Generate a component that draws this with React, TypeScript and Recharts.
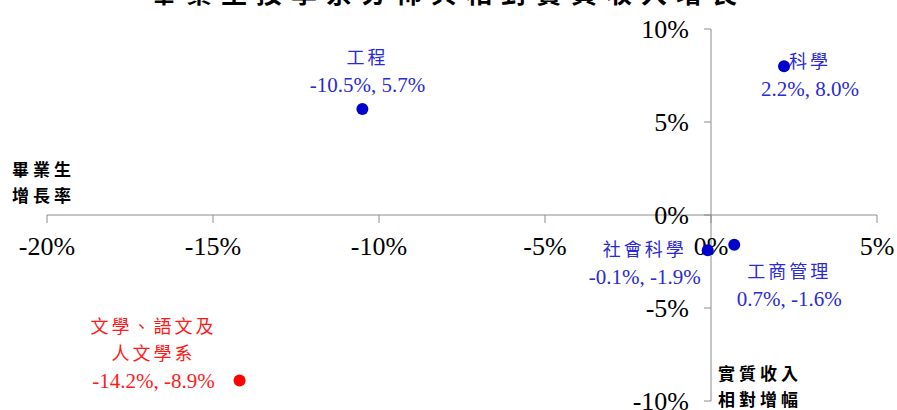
import { ScatterChart, Scatter, XAxis, YAxis, ReferenceLine, ReferenceDot } from 'recharts';

const categories = ['工程', '科學', '社會科學', '工商管理', '文學、語文及人文學系'];
const labelLines = [['工程'], ['科學'], ['社會科學'], ['工商管理'], ['文學、語文及', '人文學系']];
const growthX = [-10.5, 2.2, -0.1, 0.7, -14.2];
const incomeY = [5.7, 8.0, -1.9, -1.6, -8.9];
const highlighted = ['文學、語文及人文學系'];

const xTicks = [-20, -15, -10, -5, 0, 5];
const yTicks = [-10, -5, 0, 5, 10];
const xTitle = ['畢業生', '增長率'];
const yTitle = ['實質收入', '相對增幅'];
const chartTitle = '畢業生按學系分佈與相對實質收入增長';

// where each label block sits relative to its dot
const placement: Record<string, { dx: number; dy: number }> = {
  工程: { dx: 5, dy: -51 },
  科學: { dx: 26, dy: -4 },
  社會科學: { dx: -63, dy: 0 },
  工商管理: { dx: 55, dy: 27 },
  '文學、語文及人文學系': { dx: -86, dy: -54 },
};

const points = categories.map((name, i) => ({
  name,
  lines: labelLines[i],
  x: growthX[i],
  y: incomeY[i],
}));
const blueData = points.filter((p) => !highlighted.includes(p.name));
const redData = points.filter((p) => highlighted.includes(p.name));

const SERIF = '"Liberation Serif", "Noto Sans CJK TC", serif';
const AXIS = '#8c8c8c';

const pct = (v: number) => `${v.toFixed(1)}%`;

function makeDot(dotColor: string, textColor: string) {
  return (props: any) => {
    const { cx, cy, payload } = props;
    const pl = placement[payload.name] || { dx: 0, dy: -30 };
    const tx = cx + pl.dx;
    const rows: string[] = [...payload.lines, `${pct(payload.x)}, ${pct(payload.y)}`];
    return (
      <g>
        <circle cx={cx} cy={cy} r={6} fill={dotColor} />
        {rows.map((r, i) => {
          const isName = i < rows.length - 1;
          return (
            <text
              key={i}
              x={tx}
              y={cy + pl.dy + i * 27}
              textAnchor='middle'
              dominantBaseline='central'
              fill={textColor}
              fontFamily={SERIF}
              fontSize={isName ? 18 : 21}
              letterSpacing={isName ? 3 : 0}
            >
              {r}
            </text>
          );
        })}
      </g>
    );
  };
}

const xTickShape = (v: number) => (props: any) => {
  const { cx, cy } = props;
  return (
    <g>
      <line x1={cx} y1={cy} x2={cx} y2={cy + 8} stroke={AXIS} />
      <text x={cx} y={cy + 40} textAnchor='middle' fontFamily={SERIF} fontSize={26} fill='#000'>
        {`${v}%`}
      </text>
    </g>
  );
};

const yTickShape = (v: number) => (props: any) => {
  const { cx, cy } = props;
  return (
    <g>
      <line x1={cx - 7} y1={cy} x2={cx} y2={cy} stroke={AXIS} />
      <text x={cx - 22} y={cy + 9} textAnchor='end' fontFamily={SERIF} fontSize={26} fill='#000'>
        {`${v}%`}
      </text>
    </g>
  );
};

const titleShape = (lines: string[], dx: number, dy: number) => (props: any) => {
  const { cx, cy } = props;
  return (
    <g>
      {lines.map((l, i) => (
        <text
          key={i}
          x={cx + dx}
          y={cy + dy + i * 26}
          dominantBaseline='central'
          fontFamily='"Noto Sans CJK TC", sans-serif'
          fontWeight={700}
          fontSize={17}
          letterSpacing={4}
          fill='#000'
        >
          {l}
        </text>
      ))}
    </g>
  );
};

export default function App() {
  return (
    <div style={{ position: 'fixed', top: 0, left: 0, width: 897, height: 410, overflow: 'hidden', background: '#fff' }}>
      <div
        style={{
          position: 'absolute',
          top: -23,
          left: 8,
          width: 881,
          height: 30,
          lineHeight: '30px',
          textAlign: 'center',
          fontFamily: '"Noto Sans CJK TC", sans-serif',
          fontWeight: 700,
          fontSize: 26,
          letterSpacing: 9,
          zIndex: 1,
        }}
      >
        {chartTitle}
      </div>
      <div style={{ position: 'absolute', top: 8, left: 8 }}>
        <ScatterChart width={889} height={420} margin={{ top: 21, right: 20, bottom: 27, left: 39 }}>
          <XAxis type='number' dataKey='x' domain={[-20, 5]} hide />
          <YAxis type='number' dataKey='y' domain={[-10, 10]} hide />
          <ReferenceLine y={0} stroke={AXIS} strokeWidth={1} />
          <ReferenceLine x={0} stroke={AXIS} strokeWidth={1} />
          {xTicks.map((v) => (
            <ReferenceDot key={`xt${v}`} x={v} y={0} shape={xTickShape(v)} />
          ))}
          {yTicks.map((v) => (
            <ReferenceDot key={`yt${v}`} x={0} y={v} shape={yTickShape(v)} />
          ))}
          <ReferenceDot x={-20} y={0} shape={titleShape(xTitle, -35, -47)} />
          <ReferenceDot x={0} y={-10} shape={titleShape(yTitle, 7, -29)} />
          <Scatter data={blueData} shape={makeDot('#0000cc', '#2a2ad6')} isAnimationActive={false} />
          <Scatter data={redData} shape={makeDot('#ff0000', '#ff1a1a')} isAnimationActive={false} />
        </ScatterChart>
      </div>
    </div>
  );
}
